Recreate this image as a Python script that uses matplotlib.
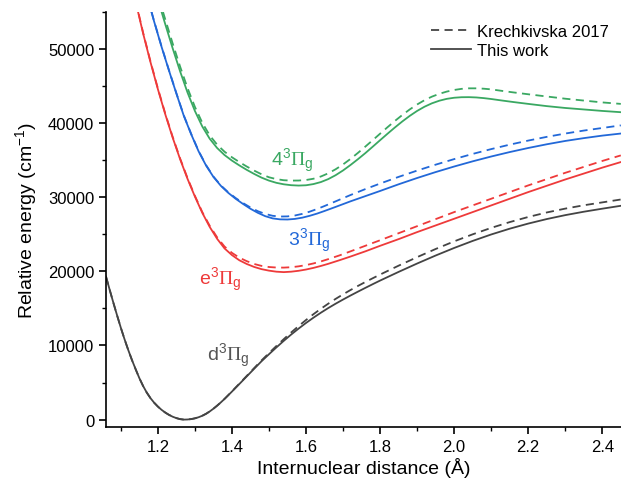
import numpy as np
import matplotlib
matplotlib.use('Agg')
import matplotlib.pyplot as plt

plt.rcParams['font.family'] = ['Liberation Sans', 'DejaVu Sans']
plt.rcParams['mathtext.fontset'] = 'custom'
plt.rcParams['mathtext.rm'] = 'Liberation Sans'
plt.rcParams['mathtext.it'] = 'Liberation Sans:italic'
plt.rcParams['mathtext.sf'] = 'Liberation Serif'

# d3Pi_g
d_r = [1.06, 1.07, 1.08, 1.09, 1.10, 1.11, 1.12, 1.13, 1.14, 1.15, 1.16, 1.17, 1.18, 1.19, 1.20,
       1.21, 1.22, 1.23, 1.24, 1.25, 1.26, 1.27, 1.28, 1.29, 1.30, 1.31, 1.32, 1.33, 1.34, 1.35,
       1.36, 1.37, 1.38, 1.39, 1.40,
       1.42, 1.44, 1.46, 1.48, 1.50, 1.52, 1.54, 1.56, 1.58, 1.60, 1.62, 1.64, 1.66, 1.68, 1.70,
       1.72, 1.74, 1.76, 1.78, 1.80,
       1.85, 1.90, 1.95, 2.00, 2.05, 2.10, 2.15, 2.20, 2.25, 2.30, 2.35, 2.40, 2.45]
d_this = [19300, 17500, 15750, 14050, 12400, 10850, 9400, 8050, 6800, 5600, 4550, 3650, 2900, 2280, 1760,
          1320, 950, 640, 390, 200, 65, 0, 15, 70, 170, 320, 520, 780, 1100, 1470,
          1880, 2320, 2790, 3280, 3780,
          4800, 5830, 6860, 7880, 8820, 9740, 10630, 11480, 12280, 13040, 13750, 14420, 15050, 15640, 16200,
          16740, 17260, 17770, 18270, 18760,
          19930, 21060, 22140, 23160, 24110, 24980, 25760, 26450, 27060, 27590, 28050, 28460, 28850]
d_krech = [19300, 17500, 15750, 14050, 12400, 10850, 9400, 8050, 6800, 5600, 4550, 3650, 2900, 2280, 1760,
           1320, 950, 640, 390, 200, 65, 0, 15, 70, 170, 320, 520, 780, 1100, 1470,
           1880, 2320, 2790, 3300, 3810,
           4850, 5900, 6950, 7990, 8970, 9930, 10860, 11760, 12620, 13440, 14220, 14950, 15640, 16290, 16900,
           17480, 18030, 18560, 19070, 19570,
           20770, 21920, 23020, 24050, 25000, 25870, 26650, 27340, 27950, 28470, 28920, 29310, 29700]

# e3Pi_g
e_r = [1.14, 1.16, 1.18, 1.20, 1.22, 1.24, 1.26, 1.28, 1.30, 1.32,
       1.34, 1.36, 1.38, 1.40, 1.42, 1.44, 1.46, 1.48, 1.50, 1.52,
       1.54, 1.56, 1.58, 1.60, 1.62, 1.64, 1.66, 1.69, 1.72, 1.76,
       1.80, 1.85, 1.90, 1.95, 2.00, 2.05, 2.10, 2.15, 2.20, 2.25,
       2.30, 2.35, 2.40, 2.45]
e_this = [56400, 52150, 48250, 44600, 41200, 38050, 35150, 32500, 30100, 27900,
          26000, 24400, 23100, 22200, 21500, 21000, 20600, 20300, 20100, 19960,
          19900, 19960, 20080, 20250, 20470, 20730, 21020, 21500, 22000, 22700,
          23450, 24350, 25300, 26200, 27100, 28000, 28900, 29800, 30700, 31550,
          32400, 33200, 34000, 34750]
e_krech = [56500, 52250, 48350, 44700, 41300, 38150, 35250, 32600, 30200, 28000,
           26150, 24600, 23350, 22500, 21850, 21380, 21000, 20740, 20590, 20520,
           20510, 20560, 20680, 20850, 21070, 21340, 21650, 22150, 22700, 23450,
           24200, 25150, 26100, 27050, 28000, 28900, 29800, 30700, 31600, 32450,
           33300, 34100, 34900, 35650]

# 3 3Pi_g
b_r = [1.17, 1.19, 1.21, 1.23, 1.25, 1.27, 1.29, 1.31, 1.33, 1.35,
       1.37, 1.39, 1.41, 1.43, 1.45, 1.47, 1.49, 1.51, 1.53, 1.55,
       1.57, 1.59, 1.61, 1.63, 1.65, 1.68, 1.72, 1.76, 1.80,
       1.85, 1.90, 1.95, 2.00, 2.05, 2.10, 2.15, 2.20, 2.25, 2.30,
       2.35, 2.40, 2.45]
b_this = [57300, 53700, 50300, 47100, 44000, 41000, 38500, 36200, 34300, 32750,
          31550, 30600, 29800, 29100, 28450, 27900, 27450, 27150, 27020, 27000,
          27080, 27250, 27500, 27800, 28150, 28700, 29450, 30150, 30850,
          31750, 32600, 33400, 34150, 34850, 35500, 36100, 36650, 37150, 37600,
          37980, 38320, 38600]
b_krech = [57300, 53750, 50350, 47150, 44050, 41050, 38550, 36250, 34350, 32800,
           31600, 30680, 29900, 29220, 28620, 28120, 27750, 27500, 27400, 27420,
           27540, 27760, 28060, 28420, 28820, 29450, 30300, 31100, 31850,
           32750, 33600, 34400, 35150, 35850, 36500, 37100, 37650, 38150, 38600,
           39000, 39350, 39700]

# 4 3Pi_g
g_r = [1.20, 1.22, 1.24, 1.26, 1.28, 1.30, 1.32, 1.34, 1.36, 1.38,
       1.40, 1.42, 1.44, 1.46, 1.48, 1.50, 1.52, 1.54, 1.56, 1.58,
       1.60, 1.62, 1.64, 1.66, 1.68, 1.70, 1.72, 1.74, 1.76, 1.78,
       1.80, 1.82, 1.84, 1.86, 1.88, 1.90, 1.92, 1.94, 1.96, 1.98,
       2.00, 2.02, 2.04, 2.06, 2.08, 2.10,
       2.13, 2.16, 2.20, 2.25, 2.30, 2.35, 2.40, 2.45]
g_this = [56700, 53350, 50100, 47000, 44150, 41650, 39550, 37900, 36650, 35700,
          34950, 34300, 33700, 33150, 32650, 32250, 31950, 31750, 31630, 31580,
          31620, 31780, 32050, 32450, 32980, 33620, 34350, 35130, 35950, 36820,
          37700, 38570, 39420, 40230, 40980, 41650, 42220, 42680, 43030, 43280,
          43430, 43500, 43510, 43470, 43380, 43260,
          43050, 42850, 42600, 42300, 42050, 41850, 41650, 41480]
g_krech = [57300, 54000, 50750, 47650, 44750, 42200, 40050, 38350, 37100, 36150,
           35400, 34750, 34150, 33600, 33100, 32700, 32450, 32300, 32250, 32260,
           32330, 32500, 32800, 33230, 33780, 34430, 35170, 35980, 36830, 37700,
           38580, 39450, 40300, 41100, 41850, 42520, 43100, 43580, 43960, 44260,
           44480, 44630, 44700, 44700, 44650, 44560,
           44350, 44150, 43900, 43600, 43300, 43050, 42800, 42600]

grey = '#444444'
red = '#ee3a3a'
blue = '#2268d8'
green = '#3aa862'

fig = plt.figure(figsize=(6.21, 4.85), dpi=100)
ax = fig.add_axes([0.1707, 0.1175, 0.829, 0.8557])

lw = 1.3
dash = (4.5, 3)
for r, this, krech, c in [(d_r, d_this, d_krech, grey), (e_r, e_this, e_krech, red),
                          (b_r, b_this, b_krech, blue), (g_r, g_this, g_krech, green)]:
    ax.plot(r, krech, color=c, lw=lw, dashes=dash)
    ax.plot(r, this, color=c, lw=lw)

# только для легенды
ax.plot([], [], color=grey, lw=lw, dashes=dash, label='Krechkivska 2017')
ax.plot([], [], color=grey, lw=lw, label='This work')
ax.legend(loc='upper right', frameon=False, fontsize=12,
          handlelength=2.4, handletextpad=0.35, labelspacing=0.25,
          borderaxespad=0.3, bbox_to_anchor=(1.0, 1.0))

lab_fs = 14
ax.text(1.505, 34300, r'$\mathrm{4}^{\mathrm{3}}\mathsf{\Pi}_{\mathrm{g}}$', color=green, fontsize=lab_fs)
ax.text(1.551, 23500, r'$\mathrm{3}^{\mathrm{3}}\mathsf{\Pi}_{\mathrm{g}}$', color=blue, fontsize=lab_fs)
ax.text(1.312, 18300, r'$\mathrm{e}^{\mathrm{3}}\mathsf{\Pi}_{\mathrm{g}}$', color=red, fontsize=lab_fs)
ax.text(1.333, 8000, r'$\mathrm{d}^{\mathrm{3}}\mathsf{\Pi}_{\mathrm{g}}$', color='#555555', fontsize=lab_fs)

ax.set_xlim(1.06, 2.45)
ax.set_ylim(-1000, 55000)
ax.set_xticks([1.2, 1.4, 1.6, 1.8, 2.0, 2.2, 2.4])
ax.set_xticks(np.arange(1.1, 2.45, 0.1), minor=True)
ax.set_yticks([0, 10000, 20000, 30000, 40000, 50000])
ax.set_yticks(np.arange(0, 55001, 5000), minor=True)

ax.spines['top'].set_visible(False)
ax.spines['right'].set_visible(False)
for s in ['left', 'bottom']:
    ax.spines[s].set_linewidth(1.2)
ax.tick_params(which='major', direction='out', length=5, width=1.2, labelsize=12)
ax.tick_params(which='minor', direction='out', length=3, width=1.0)

ax.set_xlabel('Internuclear distance (Å)', fontsize=14, labelpad=2)
ax.set_ylabel(r'Relative energy (cm$^{\mathrm{-1}}$)', fontsize=14, labelpad=6)

fig.savefig('out.png', dpi=100)
